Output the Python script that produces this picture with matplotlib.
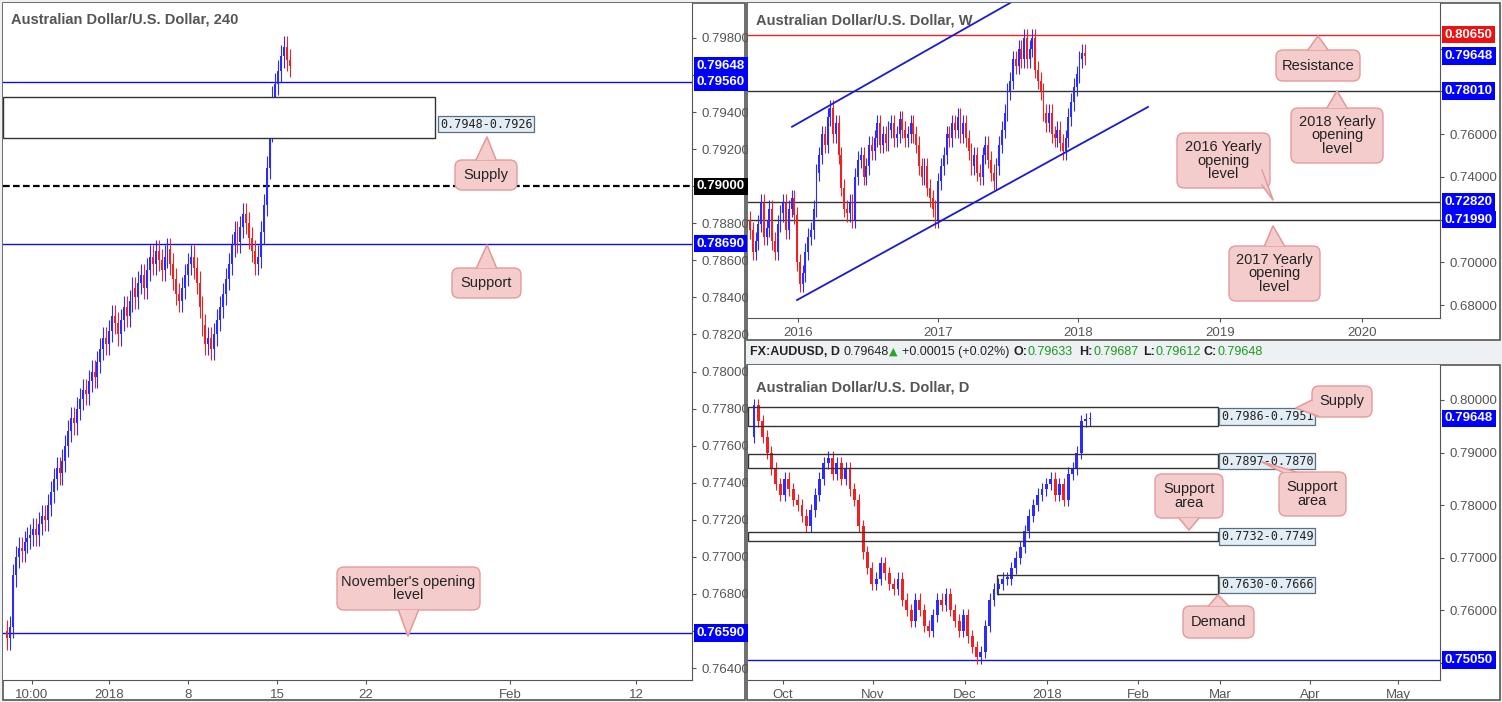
import matplotlib
matplotlib.use("Agg")
import matplotlib.pyplot as plt
import matplotlib.transforms as mtrans
from matplotlib.patches import Rectangle, FancyBboxPatch, Polygon
import numpy as np

W, H = 1502, 702
UP, DN = "#2b2bff", "#ee2222"

# ---------------- data ----------------
h4_close = [0.7656,0.7662,0.7690,0.7700,0.7705,0.7703,
            0.7708,0.7710,0.7712,0.7715,0.7712,0.7718,0.7722,0.7720,0.7728,0.7735,
            0.7742,0.7748,0.7745,0.7752,0.7760,0.7768,0.7775,0.7772,0.7780,0.7785,
            0.7790,0.7788,0.7795,0.7800,0.7797,0.7805,0.7812,0.7818,0.7815,0.7822,
            0.7830,0.7826,0.7820,0.7828,0.7835,0.7830,0.7838,0.7845,0.7840,0.7848,
            0.7852,0.7845,0.7855,0.7862,0.7858,0.7865,0.7860,0.7855,0.7862,0.7866,
            0.7858,0.7850,0.7842,0.7838,0.7845,0.7852,0.7858,0.7862,0.7856,0.7848,
            0.7835,0.7825,0.7815,0.7818,0.7812,0.7820,0.7828,0.7835,0.7842,0.7850,
            0.7858,0.7868,0.7875,0.7870,0.7878,0.7885,0.7880,0.7872,0.7865,0.7858,
            0.7862,0.7875,0.7890,0.7910,0.7930,0.7948,0.7955,0.7962,0.7970,0.7975,
            0.7968,0.7965]
h4_open0 = 0.7660
h4_ticks = ["10:00", "2018", "8", "15", "22", "Feb", "12"]
h4_levels = [0.7956, 0.7900, 0.7869, 0.7659]
h4_zone = (0.7926, 0.7948)

w_close = [0.7150,0.7050,0.7100,0.7180,0.7280,0.7120,0.7160,0.7250,0.7100,0.7050,
           0.7180,0.7230,0.7280,0.7150,0.7250,0.7300,0.7220,0.7000,0.6900,0.6950,
           0.7050,0.7120,0.7150,0.7250,0.7420,0.7500,0.7600,0.7550,0.7680,0.7720,
           0.7600,0.7650,0.7500,0.7350,0.7250,0.7230,0.7280,0.7200,0.7400,0.7480,
           0.7500,0.7400,0.7450,0.7550,0.7520,0.7580,0.7650,0.7550,0.7600,0.7560,
           0.7620,0.7650,0.7580,0.7600,0.7670,0.7620,0.7580,0.7600,0.7650,0.7600,
           0.7550,0.7450,0.7400,0.7450,0.7350,0.7300,0.7250,0.7200,0.7380,0.7450,
           0.7500,0.7600,0.7580,0.7650,0.7620,0.7680,0.7600,0.7650,0.7580,0.7520,
           0.7450,0.7500,0.7420,0.7400,0.7500,0.7550,0.7480,0.7420,0.7380,0.7450,
           0.7550,0.7620,0.7700,0.7800,0.7850,0.7950,0.7920,0.8000,0.7950,0.8050,
           0.7950,0.8000,0.8050,0.7900,0.7850,0.7800,0.7700,0.7650,0.7700,0.7600,
           0.7580,0.7620,0.7560,0.7520,0.7580,0.7680,0.7750,0.7820,0.7880,0.7950,
           0.7980,0.7965]
w_open0 = 0.7200
w_ticks = ["2016", "2017", "2018", "2019", "2020"]
w_levels = [0.8065, 0.7801, 0.7282, 0.7199]

d_close = [0.7990,0.7960,0.7930,0.7900,0.7870,0.7840,0.7820,0.7850,0.7830,0.7810,
           0.7800,0.7780,0.7760,0.7790,0.7820,0.7850,0.7880,0.7890,0.7860,0.7880,
           0.7850,0.7870,0.7830,0.7810,0.7760,0.7710,0.7680,0.7650,0.7660,0.7690,
           0.7670,0.7650,0.7640,0.7660,0.7620,0.7600,0.7580,0.7620,0.7600,0.7570,
           0.7560,0.7590,0.7620,0.7610,0.7630,0.7600,0.7580,0.7560,0.7590,0.7550,
           0.7530,0.7510,0.7520,0.7570,0.7620,0.7640,0.7650,0.7660,0.7660,0.7680,
           0.7700,0.7720,0.7750,0.7780,0.7800,0.7820,0.7830,0.7840,0.7850,0.7820,
           0.7840,0.7810,0.7860,0.7870,0.7900,0.7960,0.7963,0.7965]
d_open0 = 0.7930
d_ticks = ["Oct", "Nov", "Dec", "2018", "Feb", "Mar", "Apr", "May"]
d_zones = [(0.7951, 0.7986, "0.7986-0.7951"), (0.7870, 0.7897, "0.7897-0.7870"),
           (0.7732, 0.7749, "0.7732-0.7749"), (0.7630, 0.7666, "0.7630-0.7666")]
d_level = 0.7505
last_price = 0.79648

plt.rcParams["font.family"] = ["Liberation Sans", "DejaVu Sans"]

# ---------------- helpers ----------------
fig = plt.figure(figsize=(W/100, H/100), dpi=100, facecolor="#eef1f4")
bg = fig.add_axes([0, 0, 1, 1], zorder=-5)
bg.set_xlim(0, W); bg.set_ylim(H, 0); bg.axis("off"); bg.patch.set_alpha(0)

def rect(x0, y0, x1, y1):
    return [x0/W, 1-y1/H, (x1-x0)/W, (y1-y0)/H]

def frame(x0, y0, x1, y1):
    bg.add_patch(Rectangle((x0, y0), x1-x0, y1-y0, facecolor="white",
                 edgecolor="#555555", lw=1.2))

def candles(ax, closes, open0, wick):
    opens = [open0] + closes[:-1]
    for i, (o, c) in enumerate(zip(opens, closes)):
        col = UP if c >= o else DN
        lo, hi = min(o, c), max(o, c)
        ax.vlines(i, lo - wick, hi + wick, color=col, lw=0.8, zorder=3)
        ax.bar(i, max(hi - lo, wick*0.3), bottom=lo, width=0.65, color=col, zorder=4, lw=0)

def setup(ax, px0, px1, first_px, step_px, tick_px, ticklabels, yt, tags, gap):
    ax.set_xlim((px0 - first_px)/step_px, (px1 - first_px)/step_px)
    ax.set_xticks([(p - first_px)/step_px for p in tick_px])
    ax.set_xticklabels(ticklabels)
    ax.yaxis.tick_right()
    ax.set_yticks(yt)
    ax.set_yticklabels(["" if any(abs(v - t) < gap for t in tags) else f"{v:.5f}" for v in yt])
    ax.tick_params(colors="#555555", labelsize=9.5, length=3)
    for s in ax.spines.values():
        s.set_color("#555555")
    ax.spines["top"].set_visible(False)
    ax.spines["left"].set_visible(False)

def tag(ax, price, color, text=None):
    tr = mtrans.blended_transform_factory(ax.transAxes, ax.transData)
    ax.text(1.007, price, text or f"{price:.5f}", transform=tr, color="white",
            fontsize=9.5, fontweight="bold", va="center", ha="left", zorder=10,
            bbox=dict(boxstyle="square,pad=0.2", fc=color, ec="none"), clip_on=False)

def zone_label(ax, x, price, text):
    ax.text(x, price, text, fontsize=8.5, family="DejaVu Sans Mono", va="center",
            ha="left", zorder=8, color="#222222",
            bbox=dict(boxstyle="square,pad=0.15", fc="#e3edf5", ec="#5a7080", lw=0.9))

# ---------------- left 4h panel ----------------
frame(3, 3, 745, 700)
ax1 = fig.add_axes(rect(3, 3, 692, 680))
ax1.set_facecolor("white")
n = len(h4_close)
step = (290 - 7)/(n - 1)
setup(ax1, 3, 692, 7, step, [32, 109, 188, 277, 366, 510, 636], h4_ticks,
      np.arange(0.7640, 0.7981, 0.002), [last_price] + h4_levels, 0.0006)
ax1.set_ylim(0.76336, 0.79988)
candles(ax1, h4_close, h4_open0, 0.0006)
ax1.axhline(h4_levels[0], color="#1010d0", lw=1)
ax1.axhline(h4_levels[1], color="black", lw=1.6, ls=(0, (3, 1.5)))
ax1.axhline(h4_levels[2], color="#1010d0", lw=1)
ax1.axhline(h4_levels[3], color="#1010d0", lw=1)
xz1 = (435 - 7)/step
ax1.add_patch(Rectangle((ax1.get_xlim()[0], h4_zone[0]), xz1 - ax1.get_xlim()[0],
              h4_zone[1]-h4_zone[0], fc="white", ec="#333333", lw=1, zorder=5))
zone_label(ax1, (440 - 7)/step, 0.79335, "0.7948-0.7926")
tag(ax1, last_price, "#0000ff", "0.79648")
tag(ax1, 0.7956, "#0000ff"); tag(ax1, 0.7900, "black")
tag(ax1, 0.7869, "#0000ff"); tag(ax1, 0.7659, "#0000ff")
ax1.text(0.012, 0.975, "Australian Dollar/U.S. Dollar, 240", transform=ax1.transAxes,
         fontsize=10.5, fontweight="bold", color="#555555", va="center")

# ---------------- right weekly panel ----------------
frame(747, 3, 1500, 340)
ax2 = fig.add_axes(rect(748, 3, 1440, 318))
ax2.set_facecolor("white")
n2 = len(w_close)
step2 = (1085 - 750)/(n2 - 1)
setup(ax2, 748, 1440, 750, step2, [798, 938, 1078, 1220, 1362], w_ticks,
      np.arange(0.68, 0.801, 0.02), [last_price] + w_levels, 0.005)
ax2.set_ylim(0.674, 0.8213)
candles(ax2, w_close, w_open0, 0.004)
ax2.axhline(w_levels[0], color="#ee2222", lw=1)
for lv in w_levels[1:]:
    ax2.axhline(lv, color="#333333", lw=1)
def w_pt(px, py):
    return ((px - 750)/step2, 0.8213 - py*4.63e-4)
for (a, b) in [((792, 125), (1010, 0)), ((797, 300), (1148, 105))]:
    p, q = w_pt(*a), w_pt(*b)
    ax2.plot([p[0], q[0]], [p[1], q[1]], color="#1a1ad0", lw=1.3, zorder=5)
tag(ax2, 0.8065, "#ee1111"); tag(ax2, last_price, "#0000ff", "0.79648")
tag(ax2, 0.7801, "#0000ff"); tag(ax2, 0.7282, "#0000ff"); tag(ax2, 0.7199, "#0000ff")
ax2.text(0.012, 0.945, "Australian Dollar/U.S. Dollar, W", transform=ax2.transAxes,
         fontsize=10.5, fontweight="bold", color="#555555", va="center")

# ---------------- right daily panel ----------------
frame(747, 365, 1500, 700)
ax3 = fig.add_axes(rect(748, 365, 1440, 680))
ax3.set_facecolor("white")
n3 = len(d_close)
step3 = (1090 - 754)/(n3 - 1)
setup(ax3, 748, 1440, 754, step3, [783, 873, 965, 1047, 1138, 1220, 1310, 1398],
      d_ticks, np.arange(0.75, 0.8001, 0.01), [last_price, d_level], 0.0015)
ax3.set_ylim(0.7467, 0.80666)
candles(ax3, d_close, d_open0, 0.0012)
ax3.axhline(d_level, color="#1010d0", lw=1)
xl = ax3.get_xlim()[0]
xr = (1218 - 754)/step3
for k, (lo, hi, lab) in enumerate(d_zones):
    x0 = xl if k < 3 else (997 - 754)/step3
    ax3.add_patch(Rectangle((x0, lo), xr - x0, hi - lo, fc="none", ec="#333333",
                  lw=1, zorder=5))
    zone_label(ax3, (1221 - 754)/step3, (lo + hi)/2 if k != 0 else 0.7969, lab)
tag(ax3, last_price, "#0000ff", "0.79648"); tag(ax3, d_level, "#0000ff")
ax3.text(0.012, 0.93, "Australian Dollar/U.S. Dollar, D", transform=ax3.transAxes,
         fontsize=10.5, fontweight="bold", color="#555555", va="center")

# header line for daily
hy = 1 - 352/H
fs = 9
fig.text(750/W, hy, "FX:AUDUSD, D", fontsize=fs, fontweight="bold", color="#222", va="center")
fig.text(843/W, hy, "0.79648", fontsize=fs, color="#222", va="center")
fig.text(889/W, hy, "\u25b2", fontsize=8, color="#22aa22", va="center",
         family="DejaVu Sans")
fig.text(902/W, hy, "+0.00015 (+0.02%)", fontsize=fs, color="#222", va="center")
for lab, lx, val, vx in [("O:", 1013, "0.79633", 1028), ("H:", 1079, "0.79687", 1094),
                         ("L:", 1143, "0.79612", 1155), ("C:", 1203, "0.79648", 1217)]:
    fig.text(lx/W, hy, lab, fontsize=fs, fontweight="bold", color="#222", va="center")
    fig.text(vx/W, hy, val, fontsize=fs, color="#1a9a1a", va="center")

# ---------------- overlay callouts ----------------
ov = fig.add_axes([0, 0, 1, 1], zorder=20)
ov.set_xlim(0, W); ov.set_ylim(H, 0); ov.axis("off"); ov.patch.set_alpha(0)

def callout(x0, y0, x1, y1, tip, text, base=None):
    fc, ec = "#f4cccc", "#e59a9a"
    tx, ty = tip
    if base is None:
        cx = (x0 + x1)/2
        by = y0 if ty < y0 else y1
        base = [(cx - 10, by), (cx + 10, by)]
    ov.add_patch(Polygon([base[0], (tx, ty), base[1]], closed=True, fc=fc, ec=ec, lw=1, zorder=1))
    ov.add_patch(FancyBboxPatch((x0, y0), x1 - x0, y1 - y0,
                 boxstyle="round,pad=0,rounding_size=7", fc=fc, ec=ec, lw=1, zorder=2))
    ov.add_patch(Polygon([base[0], (tx, ty), base[1]], closed=True, fc=fc, ec="none", zorder=3))
    ov.plot([base[0][0], tx, base[1][0]], [base[0][1], ty, base[1][1]], color=ec, lw=1, zorder=4)
    ov.text((x0 + x1)/2, (y0 + y1)/2, text, ha="center", va="center", fontsize=10.5,
            color="#222", zorder=5, linespacing=0.95)

callout(455, 160, 517, 190, (487, 137), "Supply")
callout(452, 268, 521, 298, (487, 245), "Support")
callout(337, 567, 480, 610, (408, 636), "November's opening\nlevel")
callout(1276, 50, 1360, 81, (1318, 36), "Resistance")
callout(1291, 108, 1383, 163, (1337, 91), "2018 Yearly\nopening\nlevel")
callout(1177, 133, 1270, 188, (1273, 200), "2016 Yearly\nopening\nlevel",
        base=[(1262, 170), (1262, 185)])
callout(1229, 246, 1320, 301, (1273, 226), "2017 Yearly\nopening\nlevel")
callout(1312, 386, 1372, 417, (1296, 408), "Supply", base=[(1312, 400), (1318, 416)])
callout(1279, 472, 1346, 516, (1262, 462), "Support\narea", base=[(1282, 472), (1296, 472)])
callout(1155, 474, 1223, 518, (1189, 530), "Support\narea")
callout(1183, 606, 1254, 638, (1218, 595), "Demand")

fig.savefig("out.png", dpi=100, facecolor=fig.get_facecolor())
